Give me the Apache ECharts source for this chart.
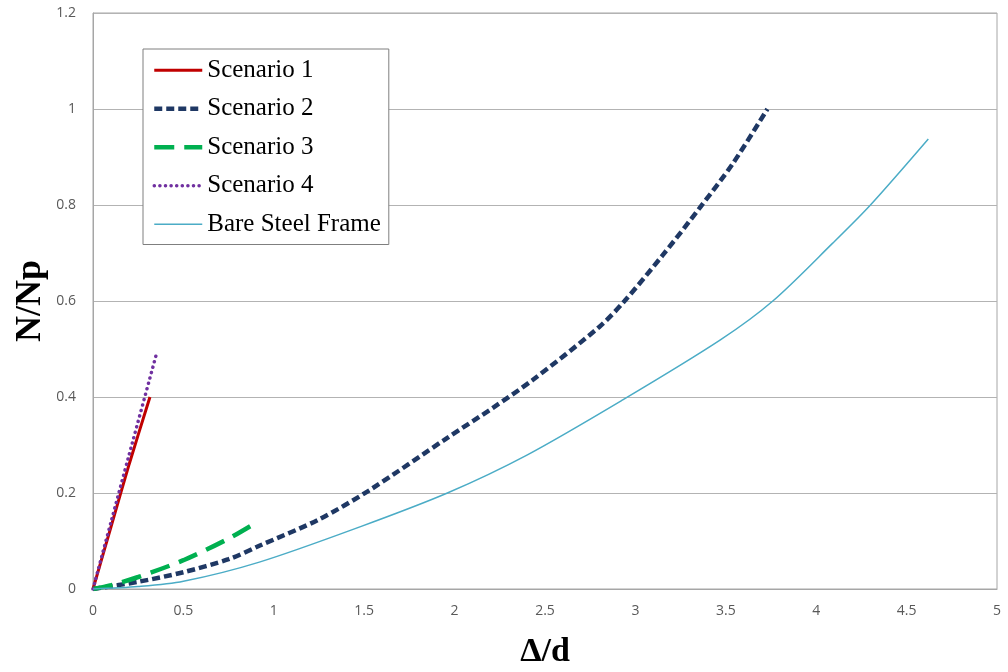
<!DOCTYPE html>
<html>
<head>
<meta charset="utf-8">
<script src="https://cdn.jsdelivr.net/npm/echarts@6/dist/echarts.min.js"></script>
<style>html,body{margin:0;padding:0;background:#fff}#c{width:1008px;height:672px}</style>
</head>
<body>
<div id="c"></div>
<script>
const seriesNames = ['Scenario 1', 'Scenario 2', 'Scenario 3', 'Scenario 4', 'Bare Steel Frame'];
const scenario1 = [[0,0],[0.1,0.13],[0.2,0.26],[0.315,0.40]];
const scenario2 = [[0,0],[0.25,0.015],[0.5,0.035],[0.75,0.062],[0.92,0.09],[1.25,0.145],[1.53,0.206],[1.96,0.315],[2.21,0.377],[2.43,0.435],[2.8,0.546],[2.94,0.6],[3.15,0.695],[3.36,0.796],[3.54,0.887],[3.73,1.0]];
const scenario3 = [[0,0],[0.1,0.008],[0.25,0.025],[0.5,0.06],[0.75,0.105],[0.91,0.14]];
const scenario4 = [[0,0],[0.1,0.14],[0.2,0.28],[0.354,0.494]];
const bareFrame = [[0,0],[0.25,0.005],[0.5,0.016],[0.92,0.056],[1.48,0.13],[1.96,0.2],[2.4,0.279],[2.93,0.394],[3.47,0.519],[3.76,0.6],[4.09,0.72],[4.3,0.8],[4.62,0.9375]];
const xTitle = 'Δ/d';
const yTitle = 'N/Np';

const colors = ['#C00000', '#1F3864', '#00B050', '#7030A0', '#4BACC6'];
const widths = [3, 4.5, 4.5, 3.5, 1.5];
const dashes = ['solid', [8, 4], [20, 10], [0.1, 5.5], 'solid'];
const caps = ['butt', 'butt', 'butt', 'round', 'butt'];
const dataSets = [scenario1, scenario2, scenario3, scenario4, bareFrame];

const chart = echarts.init(document.getElementById('c'), null, {renderer: 'canvas'});
const labelStyle = {color: '#595959', fontSize: 14, fontFamily: 'Open Sans'};
chart.setOption({
  animation: false,
  backgroundColor: '#fff',
  grid: {left: 93, right: 11, top: 13, bottom: 83, show: true, borderColor: '#a6a6a6', borderWidth: 1, outerBoundsMode: 'none', containLabel: false},
  graphic: [{
    type: 'text', x: 31, y: 301, rotation: Math.PI / 2,
    style: {text: yTitle, fill: '#000', font: 'bold 36px "Liberation Serif"', align: 'center', verticalAlign: 'middle'}
  }],
  legend: {
    orient: 'vertical', left: 143, top: 49,
    padding: [7, 8, 6, 9],
    itemGap: 10, itemWidth: 48, itemHeight: 14,
    borderColor: '#7f7f7f', borderWidth: 1, backgroundColor: '#fff',
    textStyle: {fontFamily: 'Liberation Serif', fontSize: 25, lineHeight: 28.5, color: '#000'},
    itemStyle: {opacity: 0},
    data: seriesNames.map((n, i) => ({name: n, itemStyle: {opacity: 0}, lineStyle: {width: widths[i], color: colors[i], type: dashes[i], cap: caps[i]}}))
  },
  xAxis: {
    type: 'value', min: 0, max: 5, interval: 0.5,
    name: xTitle, nameLocation: 'middle', nameGap: 46,
    nameTextStyle: {fontFamily: 'Liberation Serif', fontWeight: 'bold', fontSize: 34, color: '#000'},
    axisLine: {lineStyle: {color: '#a6a6a6'}},
    axisTick: {show: false},
    axisLabel: Object.assign({margin: 15}, labelStyle),
    splitLine: {show: false}
  },
  yAxis: {
    type: 'value', min: 0, max: 1.2, interval: 0.2,
    axisLine: {show: true, lineStyle: {color: '#a6a6a6'}},
    axisTick: {show: false},
    axisLabel: Object.assign({margin: 17}, labelStyle),
    splitLine: {lineStyle: {color: '#b3b3b3', width: 1}}
  },
  series: seriesNames.map((n, i) => ({
    name: n, type: 'line', data: dataSets[i], showSymbol: false, symbol: 'none', smooth: 0.3,
    lineStyle: {color: colors[i], width: widths[i], type: dashes[i], cap: caps[i]},
    itemStyle: {color: colors[i]}
  }))
});
</script>
</body>
</html>
